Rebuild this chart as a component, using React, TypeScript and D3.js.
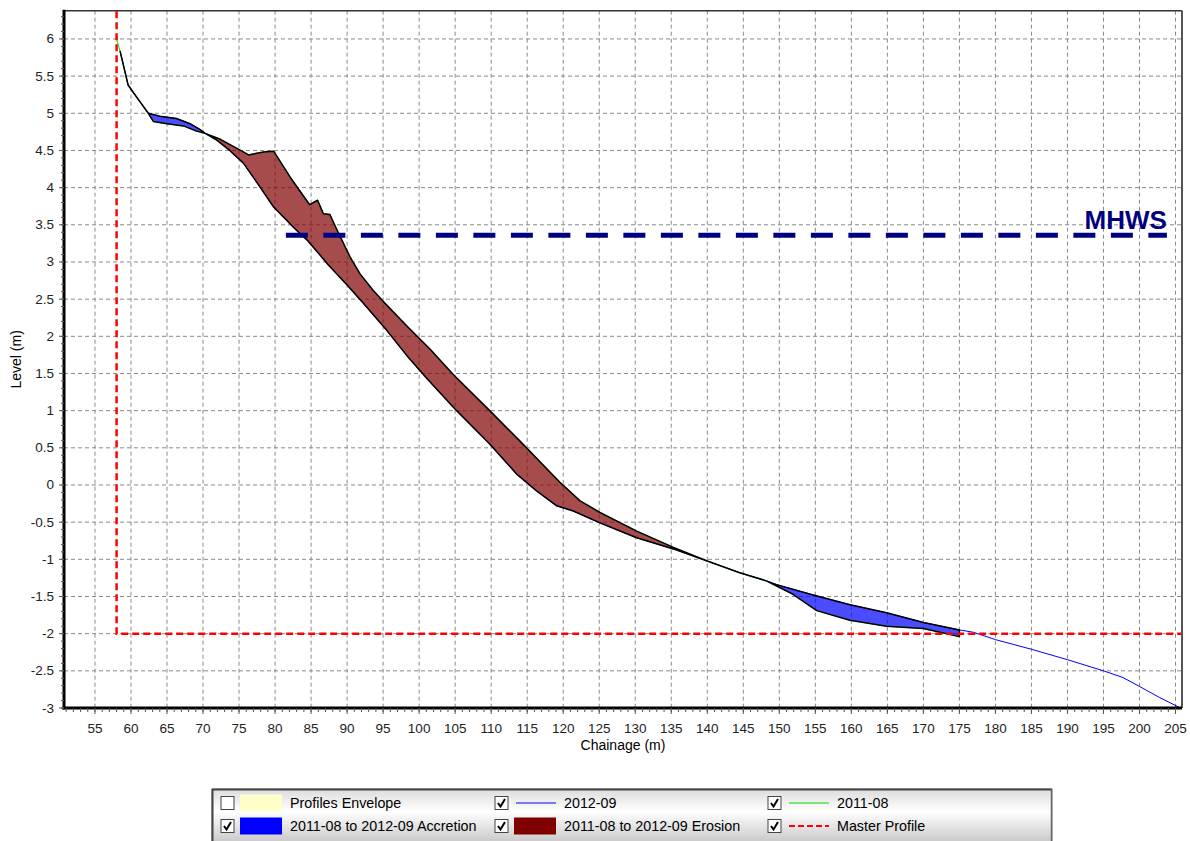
import * as d3 from 'd3';

// Beach profile, chainage (m) vs level (m)
const profile2011: [number, number][] = [
  [58.0, 6.0], [58.5, 5.83], [59.6, 5.38], [60.1, 5.31], [62.4, 5.0], [63.1, 4.89],
  [65.0, 4.86], [67.3, 4.83], [69.1, 4.76], [70.3, 4.73], [72.4, 4.65], [75.6, 4.48],
  [76.3, 4.44], [78.4, 4.48], [79.8, 4.49], [82.1, 4.14], [84.8, 3.77], [85.9, 3.83],
  [86.7, 3.65], [87.6, 3.64], [88.5, 3.45], [90.4, 3.07], [91.8, 2.84], [93.6, 2.62],
  [95.0, 2.47], [98.3, 2.14], [101.5, 1.83], [104.7, 1.49], [109.8, 1.0], [114.0, 0.59],
  [119.5, 0.04], [122.3, -0.21], [125.1, -0.37], [130.2, -0.62], [135.3, -0.84],
  [139.9, -1.02], [144.5, -1.18], [148.2, -1.29], [151.9, -1.47], [155.2, -1.69],
  [159.8, -1.82], [164.9, -1.9], [170.0, -1.93], [175.0, -2.04],
];

const profile2012: [number, number][] = [
  [58.5, 5.83], [59.6, 5.38], [60.1, 5.31], [62.4, 5.0], [64.0, 4.96], [66.3, 4.93],
  [68.2, 4.86], [69.6, 4.78], [70.3, 4.73], [71.9, 4.64], [73.7, 4.5], [75.6, 4.33],
  [77.4, 4.08], [79.8, 3.74], [81.6, 3.56], [82.5, 3.47], [84.6, 3.28], [87.4, 2.96],
  [89.9, 2.7], [92.2, 2.45], [95.5, 2.08], [98.3, 1.74], [101.2, 1.42], [105.2, 1.0],
  [109.8, 0.55], [113.5, 0.15], [116.3, -0.08], [119.1, -0.28], [121.4, -0.35],
  [125.1, -0.51], [130.2, -0.71], [135.3, -0.86], [139.9, -1.02], [144.5, -1.18],
  [148.2, -1.29], [149.6, -1.34], [154.7, -1.48], [159.8, -1.61], [164.9, -1.72],
  [170.0, -1.85], [175.0, -1.95], [176.9, -1.98], [180.0, -2.08], [185.0, -2.21],
  [190.0, -2.35], [195.0, -2.5], [197.7, -2.59], [200.0, -2.71], [202.8, -2.86],
  [205.7, -3.0],
];

const masterProfile: [number, number][] = [[58, 8], [58, -2], [208, -2]];
const mhwsLevel = 3.36;
const mhwsFrom = 81.5;
const mhwsTo = 203.8;
const compareFrom = 58.5;
const compareTo = 175;

const xTicks = [55, 60, 65, 70, 75, 80, 85, 90, 95, 100, 105, 110, 115, 120, 125, 130,
  135, 140, 145, 150, 155, 160, 165, 170, 175, 180, 185, 190, 195, 200, 205];
const yTicks = [-3, -2.5, -2, -1.5, -1, -0.5, 0, 0.5, 1, 1.5, 2, 2.5, 3, 3.5, 4, 4.5,
  5, 5.5, 6];

const legendRow1 = [
  { label: 'Profiles Envelope', kind: 'rect', color: '#ffffcc', checked: false },
  { label: '2012-09', kind: 'line', color: '#0000ff', checked: true },
  { label: '2011-08', kind: 'line', color: '#00dd00', checked: true },
];
const legendRow2 = [
  { label: '2011-08 to 2012-09 Accretion', kind: 'rect', color: '#0000ff', checked: true },
  { label: '2011-08 to 2012-09 Erosion', kind: 'rect', color: '#800000', checked: true },
  { label: 'Master Profile', kind: 'dash', color: '#ff0000', checked: true },
];

const FONT = '"Liberation Sans", Arial, sans-serif';

export default function App() {
  const left = 64, right = 1182, top = 10.7, bottom = 708;
  const x = d3.scaleLinear().domain([50.7, 205.9]).range([left, right]);
  const y = d3.scaleLinear().domain([-3, 6.38]).range([bottom, top]);
  const line = d3.line<[number, number]>().x(d => x(d[0])).y(d => y(d[1]));

  const older = profile2011.filter(d => d[0] >= compareFrom && d[0] <= compareTo);
  const newer = profile2012.filter(d => d[0] >= compareFrom && d[0] <= compareTo);
  const band = [...older, ...newer.slice().reverse()];
  const bandPath = line(band) + 'Z';
  const belowOld = line([...older, [compareTo, -20], [compareFrom, -20]]) + 'Z';
  const aboveOld = line([...older, [compareTo, 20], [compareFrom, 20]]) + 'Z';

  const xMinor = d3.range(51, 206, 1);
  const yMinor = d3.range(-30, 64, 1).map(v => v / 10);

  const colX = [221, 495, 768];
  const rowY = [803, 826];

  const legendEntry = (item: any, col: number, row: number) => {
    const cx = colX[col], cy = rowY[row];
    return (
      <g key={`${col}-${row}`}>
        <rect x={cx} y={cy - 6.5} width={13} height={13} fill="#fff" stroke="#444" strokeWidth={1} />
        {item.checked && (
          <path d={`M${cx + 3},${cy} L${cx + 5.5},${cy + 3.5} L${cx + 10},${cy - 4}`}
            fill="none" stroke="#000" strokeWidth={2} />
        )}
        {item.kind === 'rect' && (
          <rect x={cx + 19} y={cy - 8.5} width={42} height={17} fill={item.color} />
        )}
        {item.kind === 'line' && (
          <line x1={cx + 21} x2={cx + 61} y1={cy} y2={cy} stroke={item.color} strokeWidth={1.2} />
        )}
        {item.kind === 'dash' && (
          <line x1={cx + 21} x2={cx + 61} y1={cy} y2={cy} stroke={item.color}
            strokeWidth={2} strokeDasharray="6,3" />
        )}
        <text x={cx + 69} y={cy + 5} fontSize={14.3} fontFamily={FONT} fill="#000">{item.label}</text>
      </g>
    );
  };

  return (
    <svg width={1190} height={841} style={{ position: 'absolute', left: 0, top: 0, background: '#fff' }}>
      <defs>
        <clipPath id="plot"><rect x={left} y={top} width={right - left} height={bottom - top} /></clipPath>
        <clipPath id="erosion"><path d={belowOld} /></clipPath>
        <clipPath id="accretion"><path d={aboveOld} /></clipPath>
        <linearGradient id="legendBg" x1="0" y1="0" x2="0" y2="1">
          <stop offset="0%" stopColor="#dcdcdc" />
          <stop offset="40%" stopColor="#ffffff" />
          <stop offset="100%" stopColor="#c4c4c4" />
        </linearGradient>
      </defs>

      {/* grid */}
      <g stroke="#8a8a8a" strokeWidth={1} strokeDasharray="4,3">
        {xTicks.map(t => <line key={'gx' + t} x1={x(t)} x2={x(t)} y1={top} y2={bottom} />)}
        {yTicks.map(t => <line key={'gy' + t} x1={left} x2={right} y1={y(t)} y2={y(t)} />)}
      </g>

      <g clipPath="url(#plot)">
        {/* difference areas */}
        <path d={bandPath} fill="#800000" fillOpacity={0.7} clipPath="url(#erosion)" />
        <path d={bandPath} fill="#0000ff" fillOpacity={0.7} clipPath="url(#accretion)" />

        <path d={line(profile2012) ?? ''} fill="none" stroke="#0000ff" strokeWidth={1} />
        <path d={line(profile2011) ?? ''} fill="none" stroke="#00dd00" strokeWidth={1} />
        <path d={bandPath} fill="none" stroke="#000" strokeWidth={1.5} strokeLinejoin="round" />

        {/* master profile */}
        <path d={line(masterProfile) ?? ''} fill="none" stroke="#ff0000" strokeWidth={2.5}
          strokeDasharray="7,4" />

        {/* MHWS */}
        <line x1={x(mhwsFrom)} x2={x(mhwsTo)} y1={y(mhwsLevel)} y2={y(mhwsLevel)}
          stroke="#000080" strokeWidth={5} strokeDasharray="22,15.5" />
      </g>
      <text x={x(mhwsTo)} y={y(mhwsLevel) - 6} textAnchor="end" fontSize={26} fontWeight="bold"
        fontFamily={FONT} fill="#000080">MHWS</text>

      {/* frame */}
      <line x1={left} x2={right} y1={top} y2={top} stroke="#333" strokeWidth={1.5} />
      <line x1={right} x2={right} y1={top} y2={bottom} stroke="#555" strokeWidth={2} />
      <line x1={left} x2={left} y1={top - 1} y2={bottom + 1.5} stroke="#000" strokeWidth={3} />
      <line x1={left - 1.5} x2={right} y1={bottom} y2={bottom} stroke="#000" strokeWidth={3} />

      {/* ticks */}
      <g stroke="#555" strokeWidth={1}>
        {xMinor.map(t => <line key={'mx' + t} x1={x(t)} x2={x(t)} y1={bottom} y2={bottom + 4} />)}
        {xTicks.map(t => <line key={'tx' + t} x1={x(t)} x2={x(t)} y1={bottom} y2={bottom + 6} />)}
        {yMinor.map(t => <line key={'my' + t} x1={left - 3} x2={left} y1={y(t)} y2={y(t)} />)}
        {yTicks.map(t => <line key={'ty' + t} x1={left - 5} x2={left} y1={y(t)} y2={y(t)} />)}
      </g>
      <g fontFamily={FONT} fontSize={13.5} fill="#222">
        {xTicks.map(t => (
          <text key={'lx' + t} x={x(t)} y={bottom + 25} textAnchor="middle">{String(t)}</text>
        ))}
        {yTicks.map(t => (
          <text key={'ly' + t} x={left - 10} y={y(t) + 4.5} textAnchor="end">{String(t)}</text>
        ))}
      </g>
      <text x={(left + right) / 2} y={750} textAnchor="middle" fontFamily={FONT} fontSize={14}
        fill="#000">Chainage (m)</text>
      <text transform={`translate(21,${(top + bottom) / 2}) rotate(-90)`} textAnchor="middle"
        fontFamily={FONT} fontSize={14} fill="#000">Level (m)</text>

      {/* legend */}
      <rect x={212} y={789} width={840} height={56} fill="url(#legendBg)" stroke="#8a8a8a" />
      <line x1={212} x2={1052} y1={789.5} y2={789.5} stroke="#444" strokeWidth={2} />
      <line x1={212.5} x2={212.5} y1={789} y2={841} stroke="#444" strokeWidth={2} />
      <line x1={1051.5} x2={1051.5} y1={789} y2={841} stroke="#666" strokeWidth={1.5} />
      {legendRow1.map((it, i) => legendEntry(it, i, 0))}
      {legendRow2.map((it, i) => legendEntry(it, i, 1))}
    </svg>
  );
}
